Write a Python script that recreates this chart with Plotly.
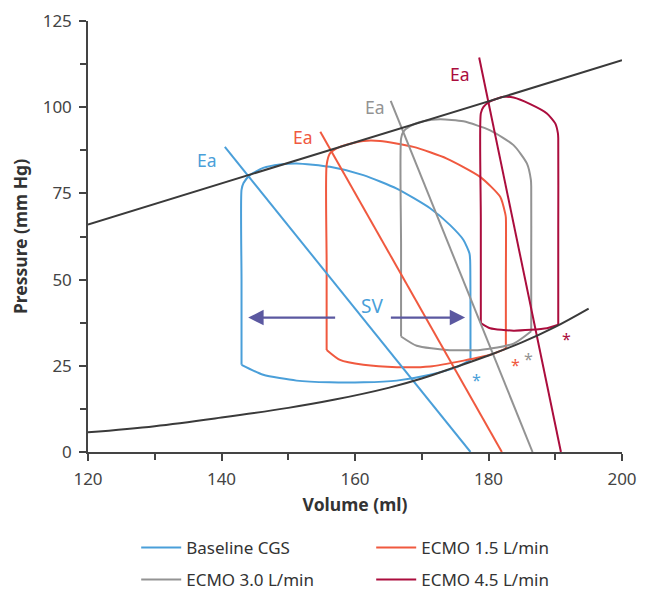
import plotly.graph_objects as go

# ---------------- data ----------------
# ESPVR (end-systolic pressure-volume relation)
espvr_vol = [120, 200]
espvr_p = [66.0, 113.6]

# EDPVR (end-diastolic pressure-volume relation)
edpvr_vol = [120, 130, 140, 150, 157, 165, 170, 175, 180, 185, 190, 195]
edpvr_p = [5.7, 7.5, 10.0, 12.8, 15.2, 18.6, 21.3, 24.6, 28.0, 31.8, 36.3, 41.6]

# PV loops: systolic limb (isovolumic contraction, ejection, isovolumic relaxation)
# and filling limb (end-systole back to end-diastole)
base_sys_vol = [177.3, 177.3, 177.25, 177.15, 176.25, 174.25, 171.25, 166.25, 161.25, 156.25,
                151.25, 148.75, 146.25, 144.25, 143.3, 143.0, 143.0, 143.0]
base_sys_p = [26.7, 40.0, 55.7, 57.6, 61.5, 65.8, 70.7, 76.4, 80.3, 82.7,
              83.7, 83.4, 82.4, 80.3, 78.0, 76.0, 50.0, 25.3]
base_fill_vol = [143.0, 146.25, 151.25, 156.25, 161.25, 166.25, 171.25, 175.25, 177.3]
base_fill_p = [25.3, 22.4, 20.7, 20.2, 20.2, 20.7, 22.4, 24.6, 26.7]

e15_sys_vol = [182.6, 182.6, 182.6, 182.5, 181.75, 178.75, 173.75, 168.75, 163.75, 161.25,
               157.75, 156.25, 155.75, 155.75, 155.75]
e15_sys_p = [30.0, 50.0, 68.0, 69.2, 74.0, 79.8, 85.1, 88.5, 90.2, 90.2,
             88.5, 86.6, 83.2, 55.0, 29.6]
e15_fill_vol = [155.75, 157.75, 161.25, 166.25, 171.25, 176.25, 180.25, 182.6]
e15_fill_p = [29.6, 26.7, 25.3, 24.6, 24.8, 26.5, 28.2, 30.0]

e30_sys_vol = [186.4, 186.4, 186.4, 186.35, 185.75, 183.75, 180.25, 176.25, 172.75, 170.25,
               168.25, 167.25, 166.9, 166.9, 166.9]
e30_sys_p = [35.0, 55.0, 77.0, 78.9, 83.7, 89.0, 93.3, 95.9, 96.5, 95.9,
             94.5, 92.9, 90.9, 60.0, 33.5]
e30_fill_vol = [166.9, 169.25, 173.75, 178.75, 183.75, 186.4]
e30_fill_p = [33.5, 30.8, 29.6, 29.6, 31.4, 35.0]

e45_sys_vol = [190.45, 190.45, 190.45, 190.4, 190.0, 188.75, 186.25, 183.75, 182.25, 180.25,
               179.25, 178.85, 178.85, 178.85]
e45_sys_p = [36.9, 65.0, 91.0, 92.4, 95.3, 98.2, 100.9, 102.8, 103.0, 101.7,
             100.1, 98.2, 68.0, 37.4]
e45_fill_vol = [178.85, 180.25, 183.75, 188.75, 190.45]
e45_fill_p = [37.4, 35.9, 35.2, 35.9, 36.9]

# Effective arterial elastance lines: [volume at P=0, volume at top], [0, top pressure]
ea_base_vol, ea_base_p = [177.3, 140.5], [0, 88.5]
ea_15_vol, ea_15_p = [182.0, 154.8], [0, 92.9]
ea_30_vol, ea_30_p = [186.6, 165.35], [0, 101.8]
ea_45_vol, ea_45_p = [190.85, 178.6], [0, 114.4]

# Ea label positions
ea_label_vol = [137.8, 152.2, 163.0, 175.75]
ea_label_p = [84.6, 91.4, 100.1, 109.6]

# end-diastolic asterisks
ast_vol = [178.25, 184.0, 186.0, 191.75]
ast_p = [22.1, 26.4, 28.2, 33.8]

# stroke volume arrows (tail -> tip)
sv_arrow_y = 39.0
sv_left = (157.25, 144.0)
sv_right = (165.15, 176.5)
sv_label = (162.5, 42.2)

names = ["Baseline CGS", "ECMO 1.5 L/min", "ECMO 3.0 L/min", "ECMO 4.5 L/min"]
colors = ["#4a9fd9", "#f0593f", "#939393", "#ab0d3d"]
x_ticks = [120, 140, 160, 180, 200]
y_ticks = [0, 25, 50, 75, 100, 125]

FONT = "Noto Sans"
AXIS_C = "#444444"
ARROW_C = "#5b58a0"

fig = go.Figure()

sys_limbs = [(base_sys_vol, base_sys_p), (e15_sys_vol, e15_sys_p),
             (e30_sys_vol, e30_sys_p), (e45_sys_vol, e45_sys_p)]
fill_limbs = [(base_fill_vol, base_fill_p), (e15_fill_vol, e15_fill_p),
              (e30_fill_vol, e30_fill_p), (e45_fill_vol, e45_fill_p)]
legend_ids = ["legend", "legend", "legend2", "legend2"]
for (v, p), (fv, fp), n, c, lg in zip(sys_limbs, fill_limbs, names, colors, legend_ids):
    fig.add_trace(go.Scatter(x=v, y=p, mode="lines", name=n, legend=lg, legendgroup=n,
                             line=dict(color=c, width=2, shape="spline", smoothing=0.6),
                             hoverinfo="skip"))
    fig.add_trace(go.Scatter(x=fv, y=fp, mode="lines", showlegend=False, legendgroup=n,
                             line=dict(color=c, width=2, shape="spline", smoothing=0.6),
                             hoverinfo="skip"))

eas = [(ea_base_vol, ea_base_p), (ea_15_vol, ea_15_p), (ea_30_vol, ea_30_p), (ea_45_vol, ea_45_p)]
for (v, p), c in zip(eas, colors):
    fig.add_trace(go.Scatter(x=v, y=p, mode="lines", showlegend=False,
                             line=dict(color=c, width=2), hoverinfo="skip"))

fig.add_trace(go.Scatter(x=espvr_vol, y=espvr_p, mode="lines", showlegend=False,
                         line=dict(color="#3a3a3a", width=2), hoverinfo="skip"))
fig.add_trace(go.Scatter(x=edpvr_vol, y=edpvr_p, mode="lines", line_shape="spline",
                         showlegend=False, line=dict(color="#3a3a3a", width=2), hoverinfo="skip"))

annotations = []
for xv, yv, c in zip(ea_label_vol, ea_label_p, colors):
    annotations.append(dict(x=xv, y=yv, xref="x", yref="y", text="Ea", showarrow=False,
                            font=dict(family=FONT, size=17.5, color=c)))
for xv, yv, c in zip(ast_vol, ast_p, colors):
    annotations.append(dict(x=xv, y=yv, xref="x", yref="y", text="*", showarrow=False,
                            yshift=-4, font=dict(family=FONT, size=16, color=c)))
for tail, tip in (sv_left, sv_right):
    annotations.append(dict(x=tip, y=sv_arrow_y, ax=tail, ay=sv_arrow_y, xref="x", yref="y",
                            axref="x", ayref="y", text="", showarrow=True, arrowhead=2,
                            arrowsize=1.4, arrowwidth=2.2, arrowcolor=ARROW_C, standoff=0))
annotations.append(dict(x=sv_label[0], y=sv_label[1], xref="x", yref="y", text="SV",
                        showarrow=False, font=dict(family=FONT, size=19, color=colors[0])))

legend_common = dict(orientation="h", xanchor="left", yanchor="middle",
                     xref="container", yref="container",
                     font=dict(family=FONT, size=17, color="#333333"),
                     entrywidth=180, entrywidthmode="pixels", itemwidth=40,
                     bgcolor="rgba(0,0,0,0)", itemclick=False, itemdoubleclick=False)

fig.update_layout(
    width=641, height=584,
    margin=dict(l=80, r=27, t=13, b=140, autoexpand=False),
    paper_bgcolor="white", plot_bgcolor="white",
    font=dict(family=FONT, color=AXIS_C),
    showlegend=True,
    legend=dict(x=0.2, y=0.0753, **legend_common),
    legend2=dict(x=0.2, y=0.0205, **legend_common),
    annotations=annotations,
    xaxis=dict(range=[120, 200], tickvals=x_ticks, ticks="outside", ticklen=7, tickwidth=1.5,
               tickcolor=AXIS_C, showline=True, linecolor=AXIS_C, linewidth=1.5,
               showgrid=False, zeroline=False, tickfont=dict(size=17, color=AXIS_C),
               automargin=False, ticklabelstandoff=4,
               minor=dict(dtick=10, tick0=120, ticks="outside", ticklen=6, tickwidth=1.5,
                          tickcolor=AXIS_C, showgrid=False),
               title=dict(text="<b>Volume (ml)</b>", font=dict(size=17.5, color="#333333"),
                          standoff=10)),
    yaxis=dict(range=[0, 125], tickvals=y_ticks, ticks="outside", ticklen=7, tickwidth=1.5,
               tickcolor=AXIS_C, showline=True, linecolor=AXIS_C, linewidth=1.5,
               showgrid=False, zeroline=False, tickfont=dict(size=17, color=AXIS_C),
               automargin=False, ticklabelstandoff=4,
               minor=dict(dtick=12.5, tick0=0, ticks="outside", ticklen=6, tickwidth=1.5,
                          tickcolor=AXIS_C, showgrid=False),
               title=dict(text="<b>Pressure (mm Hg)</b>", font=dict(size=17.5, color="#333333"),
                          standoff=13)),
)

fig.write_html("out.html")
